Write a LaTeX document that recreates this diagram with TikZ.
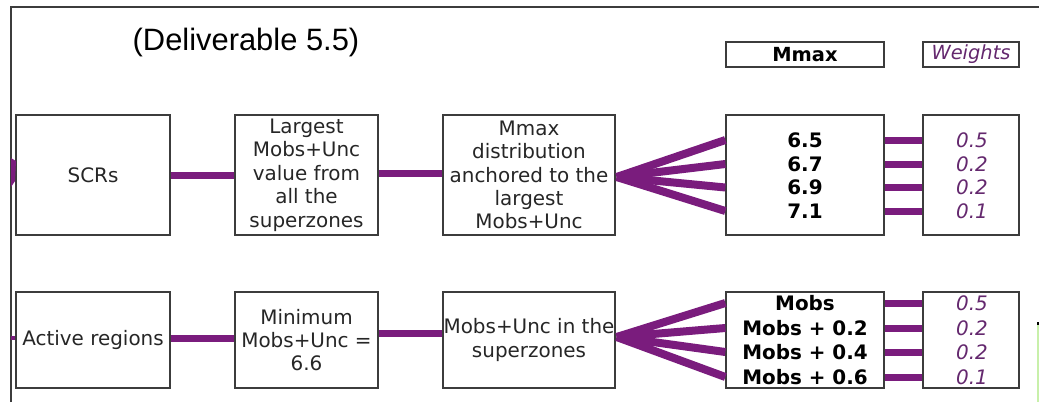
\documentclass[tikz,border=0pt]{standalone}
\usepackage{fontspec}
\setmainfont{DejaVu Sans}
\newfontfamily\titlefont{Liberation Sans}
\usetikzlibrary{calc}
\definecolor{conn}{RGB}{122,28,125}
\definecolor{wtext}{RGB}{100,40,110}
\definecolor{framec}{RGB}{60,60,60}
\definecolor{sliver}{RGB}{200,240,170}
\tikzset{
  box/.style={draw=framec, line width=1.3bp, rectangle, inner sep=0pt, align=center,
    font=\fontsize{20}{23.5}\selectfont, text=black!85},
  link/.style={draw=conn, line width=7bp},
  val/.style={font=\bfseries\fontsize{20}{23.5}\selectfont, inner sep=0pt},
  wt/.style={font=\itshape\fontsize{20}{23.5}\selectfont, text=wtext, inner sep=0pt}
}
\begin{document}
\begin{tikzpicture}[x=1bp,y=-1bp]
\useasboundingbox (0,0) rectangle (1039,402);
\fill[white] (0,0) rectangle (1039,402);
% frame
\draw[framec, line width=2bp] (11,402) -- (11,7) -- (1039,7);
% title
\node[font=\titlefont\fontsize{31}{36}\selectfont, inner sep=0pt] (title) at (246,43) {(Deliverable 5.5)};
% headers
\node[box, minimum width=158bp, minimum height=25bp, font=\bfseries\fontsize{19.5}{22}\selectfont, text=black] (hm) at (805,54.5) {Mmax};
\node[box, minimum width=96bp, minimum height=25bp, font=\itshape\fontsize{19.5}{22}\selectfont, text=wtext] (hw) at (971,54.5) {Weights};
% top row
\node[box, minimum width=154bp, minimum height=120bp] (scr) at (93,175) {SCRs};
\node[box, minimum width=143bp, minimum height=120bp] (lar) at (306.5,175) {Largest\\Mobs+Unc\\value from\\all the\\superzones};
\node[box, minimum width=172bp, minimum height=120bp] (mmd) at (529,175) {Mmax\\distribution\\anchored to the\\largest\\Mobs+Unc};
\node[box, minimum width=158bp, minimum height=120bp] (va) at (805,175) {};
\node[box, minimum width=96bp, minimum height=120bp] (wa) at (971,175) {};
\node[val] (a1) at (805,140) {6.5};
\node[val] (a2) at (805,164) {6.7};
\node[val] (a3) at (805,187.5) {6.9};
\node[val] (a4) at (805,211) {7.1};
\node[wt] (p1) at (972,140) {0.5};
\node[wt] (p2) at (972,164) {0.2};
\node[wt] (p3) at (972,187.5) {0.2};
\node[wt] (p4) at (972,211) {0.1};
% bottom row
\node[box, minimum width=154bp, minimum height=96bp] (act) at (93,340) {Active regions};
\node[box, minimum width=143bp, minimum height=96bp] (mnm) at (306.5,340) {Minimum\\Mobs+Unc =\\6.6};
\node[box, minimum width=172bp, minimum height=96bp] (mus) at (529,340) {Mobs+Unc in the\\superzones};
\node[box, minimum width=158bp, minimum height=96bp] (vb) at (805,340) {};
\node[box, minimum width=96bp, minimum height=96bp] (wb) at (971,340) {};
\node[val] (b1) at (805,303) {Mobs};
\node[val] (b2) at (805,328) {Mobs + 0.2};
\node[val] (b3) at (805,352) {Mobs + 0.4};
\node[val] (b4) at (805,377) {Mobs + 0.6};
\node[wt] (q1) at (972,303) {0.5};
\node[wt] (q2) at (972,328) {0.2};
\node[wt] (q3) at (972,352) {0.2};
\node[wt] (q4) at (972,377) {0.1};
% connectors top
\draw[link] (scr.east) -- (lar.west);
\draw[link] ($(lar.east)+(0,-2)$) -- ($(mmd.west)+(0,-2)$);
\coordinate (fa) at ($(mmd.east)+(1,2)$);
\foreach \i in {1,2,3,4} {
  \draw[link, line width=8bp] (fa) -- (va.west |- a\i);
  \draw[link] (va.east |- p\i) -- (wa.west |- p\i);
}
% connectors bottom
\draw[link] ($(act.east)+(0,-2)$) -- ($(mnm.west)+(0,-2)$);
\draw[link] ($(mnm.east)+(0,-7)$) -- ($(mus.west)+(0,-7)$);
\coordinate (fb) at ($(mus.east)+(1,-3)$);
\foreach \i in {1,2,3,4} {
  \draw[link, line width=8bp] (fb) -- (vb.west |- b\i);
  \draw[link] (vb.east |- q\i) -- (wb.west |- q\i);
}
% left stubs
\coordinate (sa) at (11,172);
\fill[conn] (11,158) -- (16,161) -- (15,181) -- (11,187) -- cycle;
\coordinate (sb) at (11,338);
\draw[draw=conn, line width=4bp] (sb) -- (act.west |- sb);
% green sliver at bottom right
\fill[sliver] (1036.5,323) rectangle (1039,402);
\fill[black] (1036.5,322) rectangle (1039,325);
\end{tikzpicture}
\end{document}
